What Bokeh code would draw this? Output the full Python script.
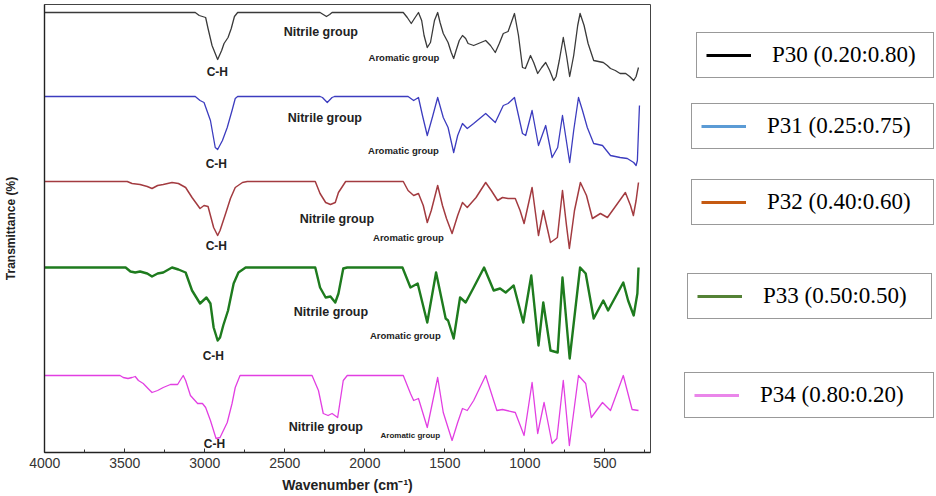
from bokeh.plotting import figure
from bokeh.layouts import row
from bokeh.models import (Range1d, SingleIntervalTicker, FixedTicker, Legend,
                          LegendItem, ColumnDataSource)
from bokeh.core.properties import value
from bokeh.embed import file_html
from bokeh.resources import INLINE

# FTIR spectra, stacked transmittance (arbitrary units), wavenumber in cm^-1
wn_p30 = [4000, 3060, 3035, 3015, 2995, 2980, 2955, 2920, 2895, 2880, 2855, 2835, 2815, 2795,
          2280, 2260, 2240, 2220, 2205, 1760, 1735, 1710, 1690, 1665, 1645, 1630, 1610, 1590,
          1565, 1545, 1530, 1510, 1480, 1460, 1445, 1430, 1410, 1390, 1370, 1355, 1320, 1290,
          1245, 1215, 1185, 1160, 1135, 1105, 1085, 1065, 1040, 1015, 997, 965, 945, 920, 895,
          870, 845, 820, 805, 785, 760, 740, 720, 695, 670, 655, 630, 605, 570, 540, 510, 485,
          465, 435, 405, 370, 345, 320, 305, 290]
t_p30 = [440, 440, 437, 436, 435, 424, 407, 393, 402, 409, 415, 424, 436, 440,
         440, 438, 436, 438, 440, 440, 435, 429, 434, 440, 432, 417, 405, 410,
         432, 440, 430, 419, 410, 400, 394, 402, 412, 417, 414, 409, 407, 409,
         412, 407, 400, 409, 419, 421, 430, 439, 417, 385, 384, 397, 390, 379, 385,
         390, 382, 372, 376, 392, 415, 397, 376, 397, 427, 439, 427, 409, 392, 391, 390, 387,
         384, 382, 379, 379, 376, 372, 376, 385]

wn_p31 = [4000, 3060, 3030, 3005, 2965, 2935, 2920, 2890, 2860, 2830, 2810, 2795, 2280, 2265,
          2235, 2205, 2190, 1730, 1695, 1665, 1640, 1610, 1575, 1545, 1510, 1480, 1445, 1420,
          1390, 1360, 1320, 1245, 1185, 1135, 1105, 1065, 1040, 1015, 995, 955, 915, 870, 830,
          795, 765, 720, 695, 665, 640, 610, 570, 515, 465, 405, 360, 320, 305, 297, 290, 284]
t_p31 = [356, 356, 352, 350, 332, 305, 303, 312, 325, 342, 354, 356, 356, 355,
         350, 355, 356, 356, 352, 355, 337, 317, 337, 355, 335, 325, 300, 317,
         329, 324, 329, 339, 330, 347, 349, 355, 337, 319, 317, 342, 307, 327, 295,
         305, 337, 290, 322, 355, 342, 325, 309, 307, 297, 295, 294, 290, 287, 292, 322, 347]

wn_p32 = [4000, 3485, 3455, 3405, 3360, 3330, 3295, 3260, 3205, 3165, 3120, 3080, 3030, 3005,
          2980, 2945, 2920, 2905, 2870, 2840, 2810, 2765, 2735, 2310, 2280, 2245, 2215, 2185,
          2165, 2120, 1760, 1730, 1695, 1665, 1635, 1610, 1585, 1545, 1515, 1490, 1455, 1420,
          1390, 1360, 1305, 1245, 1210, 1170, 1140, 1105, 1060, 1030, 1005, 980, 955, 915, 885,
          840, 797, 765, 740, 722, 690, 653, 615, 578, 528, 484, 430, 372, 340, 322, 305, 290]
t_p32 = [271, 271, 269, 268, 266, 264, 267, 268, 270, 269, 265, 255, 244, 247,
         246, 225, 217, 222, 239, 254, 265, 270, 271, 271, 259, 250, 248, 250,
         260, 271, 271, 262, 257, 259, 247, 230, 242, 267, 247, 234, 219, 237,
         250, 245, 255, 270, 262, 252, 255, 254, 254, 242, 229, 247, 265, 217, 242,
         210, 215, 262, 227, 204, 242, 270, 257, 234, 239, 235, 247, 260, 247, 237, 252, 270]

wn_p33 = [4000, 3495, 3465, 3435, 3405, 3360, 3330, 3295, 3260, 3205, 3165, 3120, 3080, 3030,
          2990, 2965, 2945, 2920, 2905, 2885, 2855, 2820, 2790, 2745, 2310, 2280, 2245, 2215,
          2185, 2165, 2135, 2110, 1765, 1715, 1670, 1610, 1555, 1495, 1480, 1445, 1405, 1370,
          1320, 1255, 1195, 1155, 1120, 1070, 1010, 960, 915, 885, 840, 795, 765, 720, 655,
          620, 570, 510, 480, 385, 355, 320, 297, 290]
t_p33 = [185, 185, 181, 180, 181, 179, 176, 179, 180, 185, 183, 180, 162, 149,
         155, 149, 125, 112, 115, 127, 142, 169, 180, 185, 185, 165, 155, 156,
         150, 159, 184, 185, 185, 165, 169, 130, 180, 134, 132, 114, 155, 150,
         165, 185, 162, 164, 160, 167, 130, 177, 107, 150, 102, 100, 175, 94, 185,
         179, 134, 152, 142, 170, 152, 137, 159, 185]

wn_p34 = [4000, 3530, 3510, 3480, 3455, 3435, 3415, 3385, 3355, 3330, 3295, 3260, 3215, 3170,
          3155, 3135, 3120, 3090, 3045, 3015, 2995, 2965, 2930, 2905, 2860, 2830, 2810, 2780,
          2330, 2290, 2260, 2230, 2205, 2170, 2135, 2110, 1760, 1715, 1695, 1665, 1610, 1545,
          1510, 1455, 1420, 1390, 1360, 1320, 1245, 1175, 1140, 1060, 1005, 955, 920, 880,
          830, 800, 760, 722, 665, 620, 585, 515, 465, 385, 330, 290]
t_p34 = [77, 77, 75, 74, 75, 76, 72, 69, 64, 60, 62, 65, 68, 68,
         72, 77, 72, 57, 49, 49, 45, 32, 14, 15, 30, 49, 65, 77,
         77, 62, 39, 37, 39, 35, 72, 77, 77, 59, 52, 54, 25, 75,
         40, 12, 30, 44, 42, 52, 77, 42, 43, 40, 17, 70, 19, 50,
         9, 14, 72, 7, 77, 69, 35, 50, 42, 77, 43, 42]

series_names = ["P30 (0.20:0.80)", "P31 (0.25:0.75)", "P32 (0.40:0.60)",
                "P33 (0.50:0.50)", "P34 (0.80:0.20)"]
x_ticks_interval = 500

# band annotations: wavenumber and stacked transmittance of each label
ch_wn = [2922, 2928, 2928, 2947, 2940]
ch_t = [381, 289, 207, 97, 9]
nitrile_wn = [2275, 2250, 2175, 2212, 2244]
nitrile_t = [421, 335, 234, 141, 26]
aromatic_wn = [1756, 1759, 1728, 1747, 1716]
aromatic_t = [395, 302, 215, 117, 17]

# ---- styling ----
line_colors = ["#3a3a3a", "#3c3cbf", "#a33b40", "#1e7b1e", "#e23fe2"]
line_widths = [1.3, 1.3, 1.5, 2.4, 1.3]
swatch_colors = ["#000000", "#5b9bd5", "#c55a11", "#548235", "#ea86ea"]
legend_boxes = [  # (x offset, y offset inside the legend panel, min label width)
    (45, 374, 152), (40, 303, 157), (40, 227, 157), (36, 133, 159), (33, 34, 164)]

p = figure(width=651, height=496, output_backend="svg", toolbar_location=None,
           x_range=Range1d(4002, 215), y_range=Range1d(0, 448),
           min_border_left=44, min_border_right=1, min_border_top=4,
           min_border_bottom=44, background_fill_color="white",
           border_fill_color="white")
p.grid.visible = False
p.outline_line_color = "#444444"
p.outline_line_width = 1

xs = [wn_p30, wn_p31, wn_p32, wn_p33, wn_p34]
ys = [t_p30, t_p31, t_p32, t_p33, t_p34]
for wn, t, c, w in zip(xs, ys, line_colors, line_widths):
    p.line(wn, t, line_color=c, line_width=w, line_join="round")

# x axis
xa = p.xaxis[0]
xa.ticker = SingleIntervalTicker(interval=x_ticks_interval, num_minor_ticks=2)
xa.major_tick_in = 4
xa.major_tick_out = 0
xa.minor_tick_in = 3
xa.minor_tick_out = 0
xa.major_tick_line_color = "#333333"
xa.minor_tick_line_color = "#333333"
xa.axis_line_color = "#222222"
xa.axis_line_width = 1.4
xa.major_label_standoff = 5
xa.major_label_text_font = "Liberation Sans"
xa.major_label_text_font_size = "14px"
xa.major_label_text_color = "#333333"
xa.axis_label = "Wavenumber (cm⁻¹)"
xa.axis_label_text_font = "Liberation Sans"
xa.axis_label_text_font_style = "bold"
xa.axis_label_text_font_size = "14px"
xa.axis_label_text_color = "#222222"
xa.axis_label_standoff = 6

# y axis: no ticks, title only
ya = p.yaxis[0]
ya.ticker = FixedTicker(ticks=[])
ya.major_tick_in = 0
ya.major_tick_out = 0
ya.major_label_standoff = 0
ya.axis_line_color = "#222222"
ya.axis_line_width = 1.4
ya.axis_label = "Transmittance (%)"
ya.axis_label_text_font = "Liberation Sans"
ya.axis_label_text_font_style = "bold"
ya.axis_label_text_font_size = "12px"
ya.axis_label_text_color = "#222222"
ya.axis_label_standoff = 27

# band labels
def band_labels(wn, t, text, size):
    src = ColumnDataSource(dict(x=wn, y=t, text=[text] * len(wn)))
    p.text(x="x", y="y", text="text", source=src, text_font=value("Liberation Sans"),
           text_font_style="bold", text_font_size=size, text_color="#222222",
           text_align="center", text_baseline="middle")

band_labels(ch_wn, ch_t, "C-H", "12px")
band_labels(nitrile_wn, nitrile_t, "Nitrile group", "12.5px")
band_labels(aromatic_wn[:4], aromatic_t[:4], "Aromatic group", "9.5px")
band_labels(aromatic_wn[4:], aromatic_t[4:], "Aromatic group", "8px")

# legend panel: one boxed entry per sample
lp = figure(width=285, height=496, output_backend="svg", toolbar_location=None,
            x_range=Range1d(0, 1), y_range=Range1d(0, 1), min_border=0,
            background_fill_color="white", border_fill_color="white")
lp.axis.visible = False
lp.grid.visible = False
lp.outline_line_color = None

for name, sc, (vx, vy, lw) in zip(series_names, swatch_colors, legend_boxes):
    # swatch renderer: a single vertex below the panel range, so only the key shows
    r = lp.line([-1], [-1], line_color=sc, line_width=3)
    leg = Legend(items=[LegendItem(label=name, renderers=[r])], location=(vx, vy),
                 padding=9, margin=0, spacing=0, glyph_width=45, glyph_height=20,
                 label_standoff=21, label_width=lw, label_height=20,
                 label_text_font="Liberation Serif", label_text_font_size="23px",
                 label_text_color="#000000", border_line_color="#333333",
                 border_line_width=1, background_fill_color="white",
                 background_fill_alpha=1.0)
    lp.add_layout(leg, "center")

layout = row(p, lp, spacing=0)
open("out.html", "w").write(file_html(layout, INLINE))
